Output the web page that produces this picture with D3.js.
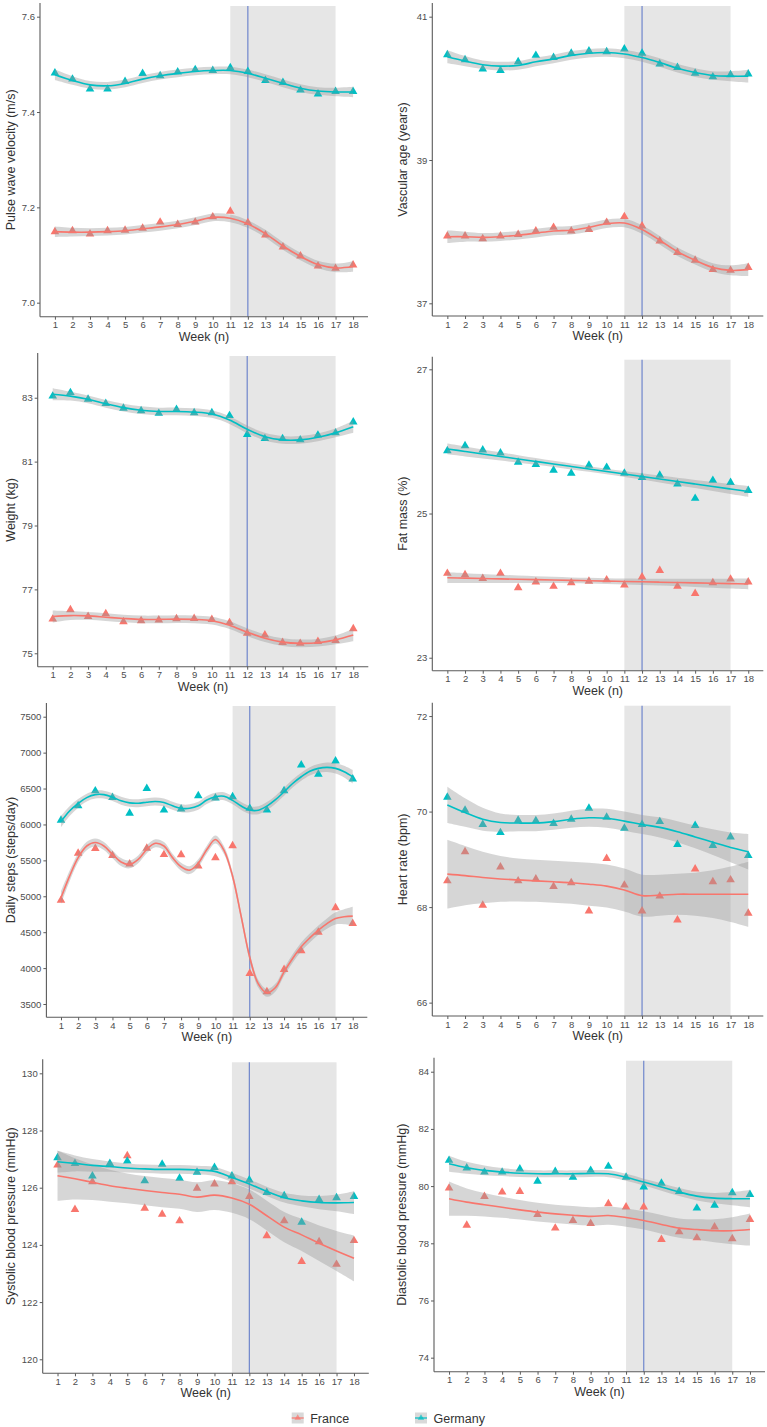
<!DOCTYPE html>
<html><head><meta charset="utf-8">
<script src="https://cdn.jsdelivr.net/npm/d3@7"></script>
<style>body{margin:0;background:#fff}svg{display:block;font-family:"Liberation Sans",Arial,sans-serif}</style>
</head><body><svg id="c" width="767" height="1427"></svg>
<script>
// ---------- data ----------
const weeks = [1,2,3,4,5,6,7,8,9,10,11,12,13,14,15,16,17,18];
const halfWeeks = [1,1.5,2,2.5,3,3.5,4,4.5,5,5.5,6,6.5,7,7.5,8,8.5,9,9.5,10,10.5,11,11.5,12,12.5,13,13.5,14,14.5,15,15.5,16,16.5,17,17.5,18];
const series = ["France", "Germany"];
const shadeWeeks = [11, 17];
const markerWeek = 12;

// Pulse wave velocity (m/s)
const pwvFrance = [7.149,7.151,7.144,7.151,7.152,7.156,7.169,7.164,7.169,7.180,7.192,7.168,7.142,7.117,7.098,7.077,7.072,7.079];
const pwvGermany = [7.482,7.469,7.448,7.448,7.464,7.481,7.476,7.484,7.489,7.487,7.493,7.485,7.466,7.462,7.446,7.438,7.443,7.443];
const pwvFranceFit = [7.149,7.148,7.148,7.149,7.151,7.155,7.159,7.164,7.171,7.179,7.177,7.165,7.145,7.119,7.097,7.080,7.073,7.076];
const pwvGermanyFit = [7.478,7.466,7.457,7.455,7.460,7.469,7.476,7.481,7.485,7.487,7.487,7.481,7.471,7.460,7.450,7.444,7.442,7.442];
const pwvFranceSe = [0.011,0.009,0.008,0.008,0.008,0.008,0.008,0.008,0.008,0.008,0.008,0.008,0.008,0.008,0.008,0.008,0.009,0.011];
const pwvGermanySe = [0.011,0.009,0.008,0.008,0.008,0.008,0.008,0.008,0.008,0.008,0.008,0.008,0.008,0.008,0.008,0.008,0.009,0.011];

// Vascular age (years)
const vaFrance = [37.94,37.94,37.90,37.94,37.96,38.01,38.06,38.01,38.03,38.13,38.21,38.08,37.87,37.71,37.60,37.47,37.46,37.50];
const vaGermany = [40.47,40.40,40.27,40.25,40.37,40.46,40.43,40.49,40.52,40.51,40.55,40.49,40.34,40.29,40.21,40.16,40.19,40.20];
const vaFranceFit = [37.93,37.93,37.92,37.93,37.95,37.98,38.01,38.02,38.06,38.11,38.12,38.03,37.88,37.72,37.60,37.50,37.46,37.47];
const vaGermanyFit = [40.44,40.38,40.33,40.31,40.32,40.37,40.41,40.46,40.49,40.50,40.48,40.43,40.36,40.28,40.22,40.18,40.17,40.17];
const vaFranceSe = [0.09,0.07,0.06,0.06,0.06,0.06,0.06,0.06,0.06,0.06,0.06,0.06,0.06,0.06,0.06,0.06,0.07,0.09];
const vaGermanySe = [0.09,0.07,0.06,0.06,0.06,0.06,0.06,0.06,0.06,0.06,0.06,0.06,0.06,0.06,0.06,0.06,0.07,0.09];

// Weight (kg)
const wtFrance = [76.07,76.36,76.15,76.24,75.99,76.02,76.04,76.08,76.09,76.06,75.96,75.63,75.57,75.34,75.31,75.37,75.40,75.77];
const wtGermany = [83.05,83.16,82.95,82.82,82.67,82.59,82.51,82.63,82.53,82.53,82.44,81.85,81.72,81.72,81.68,81.83,81.90,82.24];
const wtFranceFit = [76.15,76.18,76.17,76.13,76.09,76.06,76.06,76.07,76.06,76.02,75.88,75.66,75.47,75.35,75.31,75.33,75.42,75.57];
const wtGermanyFit = [83.11,83.05,82.95,82.81,82.69,82.61,82.57,82.57,82.55,82.49,82.30,82.01,81.78,81.68,81.68,81.76,81.90,82.09];
const wtFranceSe = [0.19,0.14,0.12,0.12,0.12,0.12,0.12,0.12,0.12,0.12,0.12,0.12,0.12,0.12,0.12,0.12,0.14,0.19];
const wtGermanySe = [0.19,0.14,0.12,0.12,0.12,0.12,0.12,0.12,0.12,0.12,0.12,0.12,0.12,0.12,0.12,0.12,0.14,0.19];

// Fat mass (%) -- fitted with a linear model computed from the points
const fmFrance = [24.17,24.15,24.10,24.17,23.97,24.05,23.99,24.04,24.06,24.08,24.01,24.12,24.21,23.99,23.89,24.04,24.09,24.05];
const fmGermany = [25.87,25.94,25.88,25.84,25.71,25.68,25.60,25.56,25.67,25.64,25.56,25.50,25.53,25.41,25.21,25.46,25.43,25.32];

// Daily steps (steps/day)
const stFrance = [4944,5598,5666,5568,5450,5670,5580,5578,5421,5537,5704,3926,3670,3982,4242,4498,4840,4622];
const stGermany = [6060,6260,6468,6375,6155,6500,6200,6215,6400,6368,6386,6224,6200,6470,6827,6700,6883,6632];
const stFranceFit = [4978,5280,5538,5700,5748,5700,5584,5477,5444,5514,5654,5738,5700,5538,5411,5364,5460,5650,5790,5640,5280,4720,4150,3780,3655,3730,3948,4134,4296,4420,4529,4620,4692,4715,4724];
const stGermanyFit = [6040,6187,6294,6374,6415,6415,6380,6330,6300,6295,6310,6320,6305,6260,6225,6225,6260,6340,6386,6392,6335,6256,6200,6198,6256,6345,6455,6570,6664,6740,6781,6795,6781,6735,6664];
const stFranceSe = [90,75,62,58,55,55,55,55,55,55,55,55,55,55,55,55,55,55,55,55,55,55,55,55,55,55,55,58,60,62,65,72,85,105,130];
const stGermanySe = [80,68,60,55,55,55,55,55,55,55,55,55,55,55,55,55,55,55,55,55,55,55,55,55,55,55,55,55,56,58,62,66,72,82,95];

// Heart rate (bpm)
const hrFrance = [68.55,69.16,68.04,68.84,68.55,68.59,68.43,68.51,67.92,69.02,68.46,67.92,68.23,67.73,68.80,68.53,68.57,67.87];
const hrGermany = [70.30,70.03,69.73,69.56,69.82,69.81,69.75,69.84,70.07,69.88,69.65,69.73,69.79,69.31,69.71,69.29,69.47,69.08];
const hrFranceFit = [68.69,68.66,68.62,68.59,68.57,68.55,68.53,68.51,68.48,68.44,68.36,68.24,68.25,68.27,68.27,68.27,68.27,68.27];
const hrGermanyFit = [70.14,69.98,69.84,69.77,69.76,69.76,69.79,69.84,69.87,69.86,69.80,69.73,69.67,69.58,69.47,69.36,69.25,69.16];
const hrFranceSe = [0.72,0.62,0.54,0.48,0.45,0.44,0.44,0.44,0.45,0.45,0.45,0.44,0.43,0.43,0.45,0.50,0.58,0.68];
const hrGermanySe = [0.38,0.30,0.24,0.19,0.17,0.17,0.17,0.18,0.19,0.20,0.20,0.20,0.21,0.22,0.24,0.27,0.31,0.37];

// Systolic blood pressure (mmHg)
const sbpFrance = [126.79,125.24,126.21,126.80,127.12,125.28,125.07,124.84,125.98,126.13,126.21,125.69,124.32,124.84,123.42,124.11,123.32,124.15];
const sbpGermany = [127.05,126.85,126.41,126.85,126.93,126.24,126.82,126.33,126.54,126.71,126.41,126.27,125.83,125.72,124.79,125.59,125.65,125.69];
const sbpFranceFit = [126.42,126.31,126.19,126.07,125.98,125.90,125.83,125.77,125.67,125.74,125.64,125.42,125.02,124.62,124.35,124.06,123.79,123.53];
const sbpGermanyFit = [126.91,126.85,126.78,126.74,126.69,126.66,126.64,126.64,126.62,126.57,126.36,126.13,125.87,125.65,125.54,125.48,125.47,125.48];
const sbpFranceSe = [0.88,0.72,0.62,0.56,0.52,0.51,0.51,0.51,0.52,0.52,0.52,0.52,0.52,0.53,0.56,0.62,0.70,0.80];
const sbpGermanySe = [0.38,0.28,0.22,0.18,0.16,0.15,0.15,0.15,0.15,0.16,0.16,0.16,0.16,0.17,0.19,0.23,0.29,0.40];

// Diastolic blood pressure (mmHg)
const dbpFrance = [79.93,78.63,79.64,79.79,79.81,79.01,78.53,78.80,78.69,79.38,79.27,79.27,78.13,78.40,78.19,78.57,78.16,78.83];
const dbpGermany = [80.90,80.63,80.49,80.49,80.60,80.17,80.51,80.31,80.55,80.69,80.31,79.97,80.10,79.81,79.23,79.33,79.77,79.71];
const dbpFranceFit = [79.56,79.44,79.35,79.26,79.17,79.09,79.03,78.98,78.94,78.97,78.90,78.80,78.66,78.53,78.48,78.44,78.44,78.48];
const dbpGermanyFit = [80.78,80.64,80.55,80.49,80.45,80.43,80.43,80.43,80.44,80.43,80.31,80.14,79.97,79.79,79.65,79.58,79.56,79.56];
const dbpFranceSe = [0.60,0.48,0.41,0.37,0.34,0.33,0.32,0.32,0.32,0.32,0.32,0.32,0.33,0.34,0.36,0.40,0.47,0.56];
const dbpGermanySe = [0.28,0.21,0.17,0.14,0.13,0.12,0.12,0.12,0.12,0.12,0.12,0.12,0.13,0.14,0.15,0.18,0.23,0.30];

// y-axis titles and ticks
const titles = ["Pulse wave velocity (m/s)","Vascular age (years)","Weight (kg)","Fat mass (%)","Daily steps (steps/day)","Heart rate (bpm)","Systolic blood pressure (mmHg)","Diastolic blood pressure (mmHg)"];
const pwvTicks = [7.0,7.2,7.4,7.6];
const vaTicks = [37,39,41];
const wtTicks = [75,77,79,81,83];
const fmTicks = [23,25,27];
const stTicks = [3500,4000,4500,5000,5500,6000,6500,7000,7500];
const hrTicks = [66,68,70,72];
const sbpTicks = [120,122,124,126,128,130];
const dbpTicks = [74,76,78,80,82,84];

// ---------- linear model (geom_smooth method = "lm") ----------
function lmFit(xs, ys){
  const n = xs.length, mx = d3.mean(xs), my = d3.mean(ys);
  let sxx = 0, sxy = 0;
  xs.forEach((x,i)=>{ sxx += (x-mx)*(x-mx); sxy += (x-mx)*(ys[i]-my); });
  const b = sxy/sxx, a = my - b*mx;
  const ss = d3.sum(xs, (x,i)=> (ys[i]-(a+b*x))**2);
  const s = Math.sqrt(ss/(n-2)), t = 2.12;
  return { fit: xs.map(x=>a+b*x), se: xs.map(x=> t*s*Math.sqrt(1/n + (x-mx)*(x-mx)/sxx)) };
}
const fmFranceLm = lmFit(weeks, fmFrance);
const fmGermanyLm = lmFit(weeks, fmGermany);

// ---------- panels ----------
const panels = [
 {title:titles[0], ticks:pwvTicks, fmt:d3.format(".1f"), pts:[pwvFrance,pwvGermany], fitW:weeks, fit:[pwvFranceFit,pwvGermanyFit], se:[pwvFranceSe,pwvGermanySe],
  g:{x0:40,x1:368,top:3,bottom:316.7,lo:6.9706,hi:7.6287,tx:10}},
 {title:titles[1], ticks:vaTicks, fmt:d3.format("d"), pts:[vaFrance,vaGermany], fitW:weeks, fit:[vaFranceFit,vaGermanyFit], se:[vaFranceSe,vaGermanySe],
  g:{x0:432.3,x1:763.3,top:3,bottom:316,lo:36.823,hi:41.191,tx:402}},
 {title:titles[2], ticks:wtTicks, fmt:d3.format("d"), pts:[wtFrance,wtGermany], fitW:weeks, fit:[wtFranceFit,wtGermanyFit], se:[wtFranceSe,wtGermanySe],
  g:{x0:37.7,x1:368.3,top:353,bottom:666.7,lo:74.58,hi:84.40,tx:10}},
 {title:titles[3], ticks:fmTicks, fmt:d3.format("d"), pts:[fmFrance,fmGermany], fitW:weeks, fit:[fmFranceLm.fit,fmGermanyLm.fit], se:[fmFranceLm.se,fmGermanyLm.se],
  g:{x0:432.3,x1:763.3,top:356.7,bottom:670.7,lo:22.82,hi:27.175,tx:402}},
 {title:titles[4], ticks:stTicks, fmt:d3.format("d"), pts:[stFrance,stGermany], fitW:halfWeeks, fit:[stFranceFit,stGermanyFit], se:[stFranceSe,stGermanySe],
  g:{x0:46.4,x1:367.3,top:703,bottom:1017.3,lo:3315,hi:7691,tx:10}},
 {title:titles[5], ticks:hrTicks, fmt:d3.format("d"), pts:[hrFrance,hrGermany], fitW:weeks, fit:[hrFranceFit,hrGermanyFit], se:[hrFranceSe,hrGermanySe],
  g:{x0:432.3,x1:763.3,top:702.7,bottom:1016,lo:65.72,hi:72.28,tx:402}},
 {title:titles[6], ticks:sbpTicks, fmt:d3.format("d"), pts:[sbpFrance,sbpGermany], fitW:weeks, fit:[sbpFranceFit,sbpGermanyFit], se:[sbpFranceSe,sbpGermanySe],
  g:{x0:42.7,x1:368.8,top:1059.3,bottom:1373.3,lo:119.51,hi:130.49,tx:10}},
 {title:titles[7], ticks:dbpTicks, fmt:d3.format("d"), pts:[dbpFrance,dbpGermany], fitW:weeks, fit:[dbpFranceFit,dbpGermanyFit], se:[dbpFranceSe,dbpGermanySe],
  g:{x0:434,x1:765,top:1057.7,bottom:1371.7,lo:73.51,hi:84.49,tx:401}}
];

const colors = ["#F8766D", "#00BFC4"];
const axisCol = "#5a5a5a", textCol = "#4d4d4d";
const svg = d3.select("#c");
const tri = d3.symbol().type(d3.symbolTriangle).size(32);

panels.forEach(p=>{
  const g = p.g;
  const x = d3.scaleLinear().domain([0.15, 18.85]).range([g.x0, g.x1]);
  const y = d3.scaleLinear().domain([g.lo, g.hi]).range([g.bottom, g.top]);
  const layer = svg.append("g");

  // shaded period and marker line
  layer.append("rect").attr("x", x(shadeWeeks[0])).attr("width", x(shadeWeeks[1]) - x(shadeWeeks[0]))
    .attr("y", g.top + 3).attr("height", g.bottom - g.top - 3).attr("fill", "#e6e6e6");
  layer.append("line").attr("x1", x(markerWeek)).attr("x2", x(markerWeek))
    .attr("y1", g.top + 3).attr("y2", g.bottom).attr("stroke", "#6f86cc").attr("stroke-width", 1.2);

  // points
  p.pts.forEach((vals, si)=>{
    layer.append("g").selectAll("path").data(vals).join("path")
      .attr("d", tri).attr("fill", colors[si])
      .attr("transform", (v,i)=>`translate(${x(weeks[i])},${y(v)})`);
  });

  // confidence bands
  p.fit.forEach((vals, si)=>{
    const d = vals.map((v,i)=>({w:p.fitW[i], v, s:p.se[si][i]}));
    const area = d3.area().x(e=>x(e.w)).y0(e=>y(e.v - e.s)).y1(e=>y(e.v + e.s)).curve(d3.curveCatmullRom.alpha(0.5));
    layer.append("path").attr("d", area(d)).attr("fill", "#999999").attr("fill-opacity", 0.4);
  });
  // fitted lines
  p.fit.forEach((vals, si)=>{
    const d = vals.map((v,i)=>({w:p.fitW[i], v}));
    const line = d3.line().x(e=>x(e.w)).y(e=>y(e.v)).curve(d3.curveCatmullRom.alpha(0.5));
    layer.append("path").attr("d", line(d)).attr("fill", "none").attr("stroke", colors[si]).attr("stroke-width", 1.6);
  });

  // axes
  const xa = layer.append("g").attr("transform", `translate(0,${g.bottom})`)
    .call(d3.axisBottom(x).tickValues(weeks).tickFormat(d3.format("d")).tickSize(3).tickPadding(2));
  const ya = layer.append("g").attr("transform", `translate(${g.x0},0)`)
    .call(d3.axisLeft(y).tickValues(p.ticks).tickFormat(p.fmt).tickSize(3).tickPadding(2));
  [xa, ya].forEach(a=>{
    a.select(".domain").remove();
    a.selectAll("line").attr("stroke", axisCol);
    a.selectAll("text").attr("fill", textCol).style("font-size", "9.5px").style("font-family", "'Liberation Sans',Arial,sans-serif");
  });
  layer.append("line").attr("x1", g.x0).attr("x2", g.x1).attr("y1", g.bottom).attr("y2", g.bottom).attr("stroke", axisCol).attr("stroke-width", 1.1);
  layer.append("line").attr("x1", g.x0).attr("x2", g.x0).attr("y1", g.top).attr("y2", g.bottom).attr("stroke", axisCol).attr("stroke-width", 1.1);

  // titles
  layer.append("text").attr("x", (g.x0 + g.x1)/2).attr("y", g.bottom + 24).attr("text-anchor", "middle")
    .attr("fill", "#333").style("font-size", "12.5px").text("Week (n)");
  layer.append("text").attr("transform", `translate(${g.tx + 4.5},${(g.top + g.bottom)/2}) rotate(-90)`)
    .attr("text-anchor", "middle").attr("fill", "#333").style("font-size", "12.5px").text(p.title);
});

// legend
const legendX = [291.7, 415];
series.forEach((name, si)=>{
  const lg = svg.append("g").attr("transform", `translate(${legendX[si]},1412.5)`);
  lg.append("rect").attr("width", 12).attr("height", 11).attr("fill", "#d9d9d9");
  lg.append("path").attr("d", d3.symbol().type(d3.symbolTriangle).size(18)()).attr("fill", colors[si]).attr("opacity", 0.7)
    .attr("transform", "translate(6,5.5)");
  lg.append("line").attr("x1", 0).attr("x2", 12).attr("y1", 5.5).attr("y2", 5.5).attr("stroke", colors[si]).attr("stroke-width", 1.2);
  lg.append("text").attr("x", 18.5).attr("y", 10).attr("fill", "#333").style("font-size", "12.5px").text(name);
});
</script></body></html>
